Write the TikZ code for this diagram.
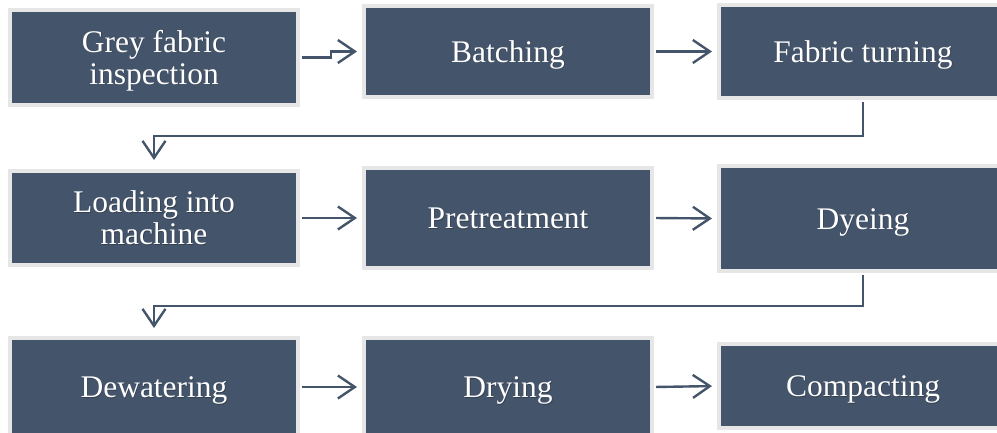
\documentclass[tikz,border=0pt]{standalone}
\usepackage{fontspec}
\setmainfont{Liberation Serif}
\usetikzlibrary{arrows.meta}

\definecolor{slate}{HTML}{44546A}
\definecolor{rim}{HTML}{E6E6E6}
\definecolor{slateshadow}{HTML}{333F50}

% white label with a soft drop shadow behind it
\newcommand\shd[1]{\makebox[0pt][l]{\kern0.7pt\raisebox{-0.7pt}{\color{slateshadow}#1}}#1}

\tikzset{
  stage/.style={draw=rim, line width=4pt, fill=slate, text=white,
    minimum width=288pt, inner sep=0pt, align=center,
    font=\fontsize{31.5}{32}\selectfont,
    text height=28pt, text depth=7pt},
  twoline/.style={text height=60pt},
  flow/.style={draw=slate, line width=2.4pt,
    -{Straight Barb[length=17pt,width=23pt,line width=2.4pt]}},
}

\begin{document}
\begin{tikzpicture}[x=1pt,y=1pt]
  \path[use as bounding box] (0,0) rectangle (997,-432);
  \clip (0,0) rectangle (997,-432);

  % row 1
  \node[stage, twoline, minimum height=95pt] (b1) at (154,-57.5) {\shd{Grey fabric}\\\shd{inspection}};
  \node[stage, minimum height=91pt] (b2) at (508,-51.5) {\shd{Batching}};
  \node[stage, minimum height=93pt] (b3) at (863,-51.5) {\shd{Fabric turning}};
  % row 2
  \node[stage, twoline, minimum height=94pt] (b4) at (154,-218) {\shd{Loading into}\\\shd{machine}};
  \node[stage, minimum height=100pt] (b5) at (508,-218) {\shd{Pretreatment}};
  \node[stage, minimum height=105pt] (b6) at (863,-218.5) {\shd{Dyeing}};
  % row 3
  \node[stage, minimum height=98pt] (b7) at (154,-387) {\shd{Dewatering}};
  \node[stage, minimum height=98pt] (b8) at (508,-387) {\shd{Drying}};
  \node[stage, minimum height=84pt] (b9) at (863,-386) {\shd{Compacting}};

  % connectors within rows
  \draw[flow, shorten <=2pt, shorten >=5pt] (b1.east) -- ++(31,0) |- (b2.west);
  \draw[flow, shorten <=2pt, shorten >=5pt] (b2.east) -- (b3.west);
  \draw[flow, shorten <=2pt, shorten >=5pt] (b4.east) -- (b5.west);
  \draw[flow, shorten <=2pt, shorten >=5pt] (b5.east) -- (b6.west);
  \draw[flow, shorten <=2pt, shorten >=5pt] (b7.east) -- (b8.west);
  \draw[flow, shorten <=2pt, shorten >=5pt] (b8.east) -- (b9.west);

  % connectors between rows
  \draw[flow, shorten <=2pt, shorten >=9pt] (b3.south) -- ++(0,-36) -| (b4.north);
  \draw[flow, shorten <=2pt, shorten >=8pt] (b6.south) -- ++(0,-33) -| (b7.north);
\end{tikzpicture}
\end{document}
